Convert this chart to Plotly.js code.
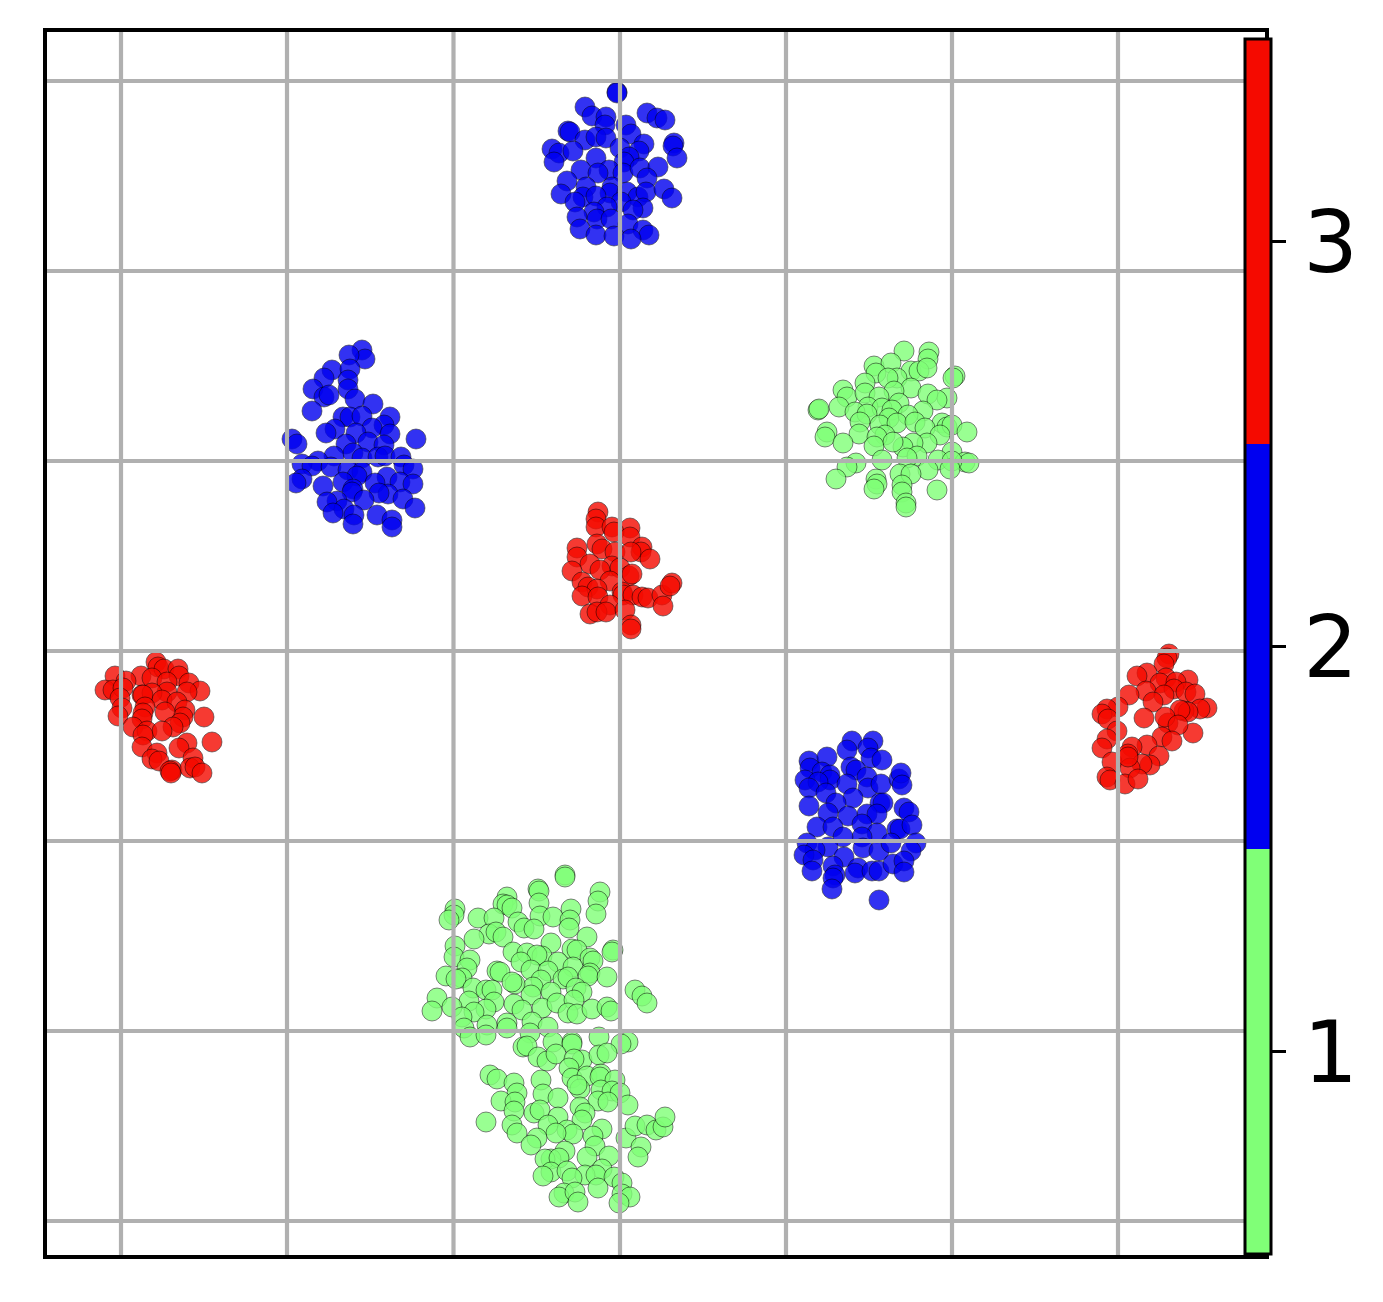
<!DOCTYPE html>
<html>
<head>
<meta charset="utf-8">
<script src="https://cdn.plot.ly/plotly-3.0.1.min.js"></script>
<style>html,body{margin:0;padding:0;background:#fff}</style>
</head>
<body>
<div id="chart" style="width:1383px;height:1302px"></div>
<script>
const xTicks = [-499,-333,-166.5,0,166,332,498];
const yTicks = [-570,-380,-190,0,190,380,570];
const classLabels = [1,2,3];
const classColors = ['#80ff77','#0000f0','#f50a00'];

const blueTop = [[-3,559],[-3,558],[-35,544],[-28,535],[-14,534],[27,538],[37,533],[45,531],[-15,526],[6,526],[-52,520],[-50,519],[11,517],[-35,511],[-24,514],[-14,513],[24,507],[54,508],[53,505],[-68,502],[-61,498],[-47,500],[0,503],[19,500],[57,493],[-66,489],[-24,493],[9,494],[4,489],[-39,481],[-11,481],[-22,478],[3,478],[20,483],[38,484],[-53,470],[27,473],[-34,464],[-8,464],[-59,457],[-10,458],[7,459],[-37,454],[-24,455],[18,454],[26,459],[44,462],[52,453],[-45,449],[1,449],[-13,444],[23,443],[13,441],[-26,439],[-43,434],[-23,432],[-9,432],[8,427],[-40,422],[23,421],[29,416],[-24,416],[-6,415],[11,412]];
const blueLeft = [[-258,301],[-255,292],[-271,296],[-288,281],[-270,282],[-296,273],[-272,271],[-307,262],[-296,254],[-291,256],[-272,262],[-265,252],[-247,247],[-308,240],[-277,234],[-270,234],[-258,235],[-230,234],[-236,226],[-248,223],[-285,222],[-294,218],[-264,218],[-230,217],[-328,212],[-323,207],[-204,212],[-252,209],[-274,207],[-236,206],[-286,195],[-267,198],[-258,193],[-242,194],[-235,195],[-219,194],[-302,190],[-318,187],[-308,185],[-289,184],[-272,181],[-258,179],[-263,175],[-233,174],[-216,186],[-207,182],[-220,169],[-207,167],[-318,172],[-324,168],[-297,165],[-277,169],[-245,168],[-267,162],[-232,157],[-241,158],[-268,159],[-283,150],[-293,149],[-276,142],[-256,151],[-217,152],[-205,143],[-287,138],[-266,136],[-243,136],[-267,127],[-228,131],[-228,124]];
const greenRight = [[284,300],[309,299],[308,292],[254,285],[271,288],[256,278],[291,280],[299,280],[307,283],[277,273],[268,273],[335,275],[333,273],[245,268],[223,261],[291,263],[274,260],[227,254],[245,258],[308,257],[259,254],[327,253],[317,251],[198,241],[199,242],[219,244],[279,248],[248,244],[235,239],[262,243],[303,240],[272,241],[247,237],[269,233],[288,236],[240,229],[260,226],[277,228],[295,229],[322,228],[327,224],[332,226],[207,219],[205,214],[239,217],[305,223],[347,219],[320,216],[265,216],[257,214],[223,208],[254,205],[307,208],[293,208],[283,204],[273,209],[262,191],[236,188],[227,184],[297,195],[287,193],[332,199],[318,191],[308,181],[345,189],[349,188],[332,190],[330,182],[216,172],[280,177],[291,177],[256,172],[257,167],[254,162],[282,166],[317,161],[282,159],[286,148],[286,144]];
const redCenter = [[-22,139],[-24,132],[-24,124],[-8,124],[10,123],[-6,119],[10,114],[-23,107],[-43,103],[-43,94],[-18,102],[-5,99],[22,104],[21,99],[11,99],[30,92],[-30,87],[-8,85],[0,83],[-48,80],[9,75],[12,77],[-20,81],[-10,70],[-38,69],[-32,64],[-23,62],[2,59],[3,56],[-38,55],[-22,54],[13,56],[22,54],[28,53],[42,56],[52,68],[50,65],[43,45],[-10,46],[-30,37],[-23,39],[-14,39],[5,41],[11,26],[11,22]];
const redLeft = [[-464,-11],[-462,-16],[-456,-18],[-442,-18],[-441,-25],[-479,-25],[-468,-27],[-505,-25],[-494,-30],[-453,-31],[-431,-32],[-515,-39],[-507,-39],[-497,-37],[-420,-40],[-453,-41],[-433,-41],[-478,-44],[-468,-42],[-477,-44],[-500,-47],[-458,-49],[-443,-51],[-475,-56],[-498,-57],[-502,-65],[-477,-62],[-478,-68],[-435,-59],[-437,-66],[-455,-61],[-416,-66],[-487,-76],[-440,-72],[-447,-76],[-473,-80],[-458,-80],[-477,-84],[-408,-91],[-433,-92],[-441,-97],[-478,-96],[-463,-102],[-468,-108],[-427,-107],[-461,-110],[-448,-119],[-450,-120],[-449,-122],[-430,-117],[-425,-116],[-418,-122]];
const redRight = [[549,-3],[547,-7],[544,-13],[527,-22],[517,-25],[546,-27],[568,-29],[540,-32],[556,-31],[526,-40],[509,-44],[554,-38],[566,-41],[575,-43],[544,-44],[533,-51],[498,-56],[487,-58],[482,-63],[587,-57],[580,-58],[524,-67],[488,-68],[564,-60],[568,-61],[560,-59],[573,-82],[548,-72],[545,-66],[558,-74],[497,-80],[487,-88],[542,-86],[552,-90],[482,-97],[527,-94],[512,-96],[508,-103],[539,-105],[492,-111],[530,-114],[522,-113],[510,-117],[487,-126],[490,-129],[505,-133],[518,-128],[508,-106]];
const blueLower = [[232,-90],[253,-90],[227,-99],[248,-97],[189,-110],[207,-106],[251,-107],[262,-109],[231,-116],[236,-119],[190,-117],[202,-121],[210,-124],[185,-129],[210,-129],[198,-131],[189,-137],[247,-126],[227,-133],[248,-137],[261,-133],[279,-128],[281,-122],[282,-134],[206,-142],[233,-147],[260,-152],[263,-152],[216,-152],[189,-155],[208,-162],[228,-165],[247,-163],[257,-163],[284,-157],[289,-161],[197,-176],[213,-176],[242,-173],[277,-178],[280,-178],[292,-174],[257,-182],[242,-186],[223,-186],[187,-192],[296,-192],[208,-196],[195,-199],[243,-197],[259,-200],[271,-192],[291,-200],[184,-204],[193,-209],[224,-206],[213,-215],[215,-224],[192,-220],[238,-217],[235,-222],[252,-220],[259,-220],[273,-213],[284,-210],[284,-221],[213,-227],[212,-238],[259,-249]];
const greenUpper = [[-55,-224],[-55,-226],[-82,-238],[-81,-240],[-20,-241],[-22,-250],[-81,-252],[-113,-246],[-117,-253],[-113,-254],[-108,-257],[-165,-258],[-166,-264],[-171,-269],[-142,-267],[-126,-267],[-24,-263],[-49,-258],[-80,-265],[-67,-266],[-50,-269],[-102,-271],[-96,-277],[-86,-278],[-51,-277],[-131,-283],[-124,-281],[-117,-286],[-146,-288],[-33,-286],[-69,-292],[-165,-295],[-107,-301],[-93,-302],[-48,-298],[-43,-299],[-7,-299],[-8,-301],[-78,-305],[-83,-304],[-166,-306],[-150,-309],[-30,-307],[-27,-310],[-99,-311],[-62,-311],[-89,-319],[-153,-317],[-72,-320],[-47,-316],[-123,-320],[-120,-321],[-174,-325],[-158,-327],[-164,-328],[-30,-322],[-32,-325],[-13,-326],[-57,-328],[-52,-326],[-79,-329],[-87,-336],[-105,-333],[-108,-331],[-147,-337],[-134,-339],[-128,-339],[-69,-341],[-44,-337],[-38,-341],[-89,-344],[-183,-347],[-188,-360],[-151,-350],[-126,-351],[-106,-353],[-134,-358],[-146,-361],[-168,-356],[-98,-359],[-78,-357],[-63,-352],[-46,-349],[-52,-362],[-43,-363],[-28,-358],[-13,-356],[-9,-360],[15,-339],[22,-345],[27,-352],[-158,-366],[-113,-372],[-113,-377],[-133,-374],[-88,-371],[-72,-376],[-156,-377],[-150,-386],[-134,-384],[-90,-382]];
const greenLower = [[-97,-396],[-93,-395],[-67,-391],[-48,-391],[-48,-393],[-21,-386],[8,-391],[1,-393],[-82,-406],[-73,-410],[-64,-403],[-38,-409],[-46,-408],[-21,-404],[-13,-402],[-51,-417],[-130,-424],[-123,-428],[-106,-432],[-48,-427],[-33,-425],[-19,-423],[-20,-426],[-79,-429],[-5,-429],[-103,-442],[-77,-443],[-40,-438],[-43,-434],[-19,-439],[-8,-440],[0,-442],[-119,-450],[-105,-451],[-62,-447],[-22,-450],[-12,-451],[8,-454],[-106,-460],[-86,-462],[-80,-459],[-40,-456],[-35,-462],[-134,-471],[-62,-466],[-38,-469],[-108,-474],[-72,-474],[-53,-479],[-47,-483],[-103,-482],[-64,-482],[-18,-478],[-27,-485],[-83,-487],[-89,-494],[6,-487],[15,-475],[27,-474],[36,-479],[43,-476],[45,-466],[-25,-495],[-55,-500],[21,-496],[18,-506],[-69,-508],[-75,-508],[-61,-507],[-33,-506],[-11,-505],[-69,-521],[-77,-525],[-53,-520],[-18,-518],[-35,-524],[-24,-524],[-48,-527],[-6,-526],[2,-532],[2,-543],[-22,-537],[-56,-542],[-61,-546],[-45,-541],[-42,-551],[10,-546],[-1,-552]];

const groups = [
  [greenUpper,1],[greenLower,1],[greenRight,1],
  [blueTop,2],[blueLeft,2],[blueLower,2],
  [redCenter,3],[redLeft,3],[redRight,3]
];
const xs=[],ys=[],cs=[];
groups.forEach(([pts,c])=>pts.forEach(([x,y])=>{xs.push(x);ys.push(y);cs.push(c);}));

const colorscale = [
  [0,classColors[0]],[1/3,classColors[0]],
  [1/3,classColors[1]],[2/3,classColors[1]],
  [2/3,classColors[2]],[1,classColors[2]]
];
const gridStyle = {color:'#b0b0b0',width:4.2};
const shapes = [];
xTicks.forEach(v=>shapes.push({type:'line',layer:'above',xref:'x',yref:'paper',x0:v,x1:v,y0:0,y1:1,line:gridStyle}));
yTicks.forEach(v=>shapes.push({type:'line',layer:'above',xref:'paper',yref:'y',x0:0,x1:1,y0:v,y1:v,line:gridStyle}));

const axis = {showgrid:false,zeroline:false,showticklabels:false,ticks:'',showline:true,mirror:true,linecolor:'#000',linewidth:4};
Plotly.newPlot('chart',[{
  type:'scatter',mode:'markers',x:xs,y:ys,hoverinfo:'skip',
  marker:{size:20,color:cs,colorscale:colorscale,cmin:0.5,cmax:3.5,opacity:0.8,
    line:{color:'#000',width:0.6},
    colorbar:{x:(1244.5-47)/1218,xanchor:'left',xpad:0,ypad:0,thickness:26,thicknessmode:'pixels',
      len:1215,lenmode:'pixels',y:(1255-39)/1223,yanchor:'top',
      tickmode:'array',tickvals:classLabels,ticktext:classLabels.map(String),
      ticks:'outside',ticklen:14,tickwidth:3,tickcolor:'#000',
      outlinecolor:'#000',outlinewidth:3,borderwidth:0,
      tickfont:{family:'DejaVu Sans',size:86,color:'#000'}}}
}],{
  width:1383,height:1302,
  margin:{l:47,r:118,t:32,b:47,pad:0,autoexpand:false},
  paper_bgcolor:'#fff',plot_bgcolor:'#fff',showlegend:false,
  xaxis:{...axis,range:[-573,645],tickvals:xTicks},
  yaxis:{...axis,range:[-604,619],tickvals:yTicks},
  shapes:shapes
},{staticPlot:true,displayModeBar:false});
</script>
</body>
</html>
